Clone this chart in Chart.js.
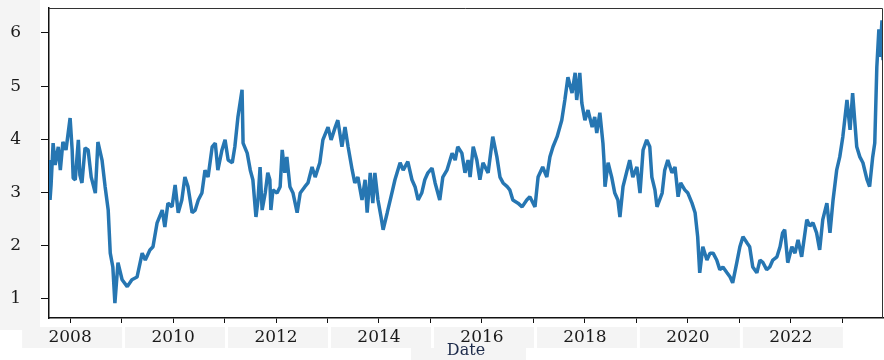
<!DOCTYPE html>
<html lang="en">
  <head>
    <meta charset="UTF-8" />
    <title>Rate over time</title>
    <script src="https://cdn.jsdelivr.net/npm/chart.js"></script>
    <style>
      html, body { margin: 0; padding: 0; background: #fff; }
      #wrap { width: 884px; height: 360px; position: relative; }
    </style>
  </head>
  <body>
    <div id="wrap"><canvas id="rateChart"></canvas></div>

    <script>
      // dates as decimal years
      const dates = [
        2007.59, 2007.61, 2007.63, 2007.67, 2007.71, 2007.77, 2007.81, 2007.86, 2007.92, 2008.00,
        2008.04, 2008.06, 2008.10, 2008.16, 2008.19, 2008.23, 2008.29, 2008.35, 2008.41, 2008.49,
        2008.54, 2008.62, 2008.68, 2008.74, 2008.78, 2008.83, 2008.87, 2008.93, 2009.01, 2009.11,
        2009.20, 2009.30, 2009.40, 2009.46, 2009.55, 2009.61, 2009.69, 2009.79, 2009.84, 2009.90,
        2009.98, 2010.04, 2010.10, 2010.17, 2010.23, 2010.29, 2010.37, 2010.43, 2010.49, 2010.56,
        2010.62, 2010.68, 2010.76, 2010.82, 2010.87, 2010.95, 2011.01, 2011.07, 2011.15, 2011.20,
        2011.26, 2011.34, 2011.36, 2011.44, 2011.50, 2011.55, 2011.61, 2011.65, 2011.69, 2011.73,
        2011.79, 2011.84, 2011.88, 2011.90, 2011.94, 2012.02, 2012.08, 2012.12, 2012.17, 2012.21,
        2012.27, 2012.33, 2012.41, 2012.47, 2012.56, 2012.62, 2012.70, 2012.76, 2012.85, 2012.91,
        2013.01, 2013.07, 2013.15, 2013.20, 2013.28, 2013.34, 2013.40, 2013.48, 2013.53, 2013.59,
        2013.67, 2013.73, 2013.77, 2013.83, 2013.88, 2013.92, 2013.98, 2014.04, 2014.08, 2014.16,
        2014.25, 2014.31, 2014.41, 2014.47, 2014.56, 2014.64, 2014.70, 2014.76, 2014.83, 2014.89,
        2014.95, 2015.03, 2015.09, 2015.18, 2015.24, 2015.32, 2015.42, 2015.48, 2015.53, 2015.61,
        2015.67, 2015.73, 2015.77, 2015.83, 2015.90, 2015.96, 2016.02, 2016.12, 2016.21, 2016.29,
        2016.35, 2016.41, 2016.49, 2016.54, 2016.60, 2016.70, 2016.78, 2016.87, 2016.93, 2017.03,
        2017.09, 2017.18, 2017.26, 2017.32, 2017.38, 2017.46, 2017.55, 2017.61, 2017.67, 2017.75,
        2017.81, 2017.84, 2017.90, 2017.94, 2018.00, 2018.06, 2018.14, 2018.19, 2018.23, 2018.29,
        2018.35, 2018.37, 2018.39, 2018.45, 2018.52, 2018.58, 2018.64, 2018.68, 2018.74, 2018.82,
        2018.87, 2018.93, 2019.01, 2019.07, 2019.13, 2019.20, 2019.26, 2019.30, 2019.36, 2019.40,
        2019.50, 2019.55, 2019.61, 2019.69, 2019.75, 2019.81, 2019.86, 2019.94, 2020.00, 2020.08,
        2020.14, 2020.19, 2020.23, 2020.29, 2020.37, 2020.43, 2020.49, 2020.56, 2020.62, 2020.68,
        2020.76, 2020.82, 2020.87, 2020.95, 2021.01, 2021.07, 2021.15, 2021.20, 2021.26, 2021.34,
        2021.40, 2021.46, 2021.53, 2021.59, 2021.65, 2021.73, 2021.79, 2021.84, 2021.88, 2021.94,
        2022.02, 2022.08, 2022.14, 2022.21, 2022.31, 2022.37, 2022.43, 2022.50, 2022.56, 2022.62,
        2022.70, 2022.76, 2022.82, 2022.89, 2022.95, 2023.01, 2023.09, 2023.15, 2023.20, 2023.28,
        2023.34, 2023.40, 2023.48, 2023.53, 2023.59, 2023.63, 2023.67, 2023.71, 2023.73, 2023.77,
        2023.79,
      ];

      const rates = [
        3.61, 2.86, 3.14, 3.93, 3.52, 3.86, 3.42, 3.95, 3.80, 4.40,
        3.80, 3.27, 3.24, 3.99, 3.33, 3.18, 3.84, 3.80, 3.29, 2.99,
        3.95, 3.61, 3.11, 2.67, 1.86, 1.60, 0.92, 1.68, 1.36, 1.23,
        1.36, 1.41, 1.86, 1.73, 1.92, 1.98, 2.43, 2.67, 2.35, 2.80,
        2.73, 3.14, 2.62, 2.86, 3.29, 3.11, 2.62, 2.67, 2.86, 2.99,
        3.42, 3.29, 3.86, 3.93, 3.42, 3.80, 3.99, 3.61, 3.56, 3.86,
        4.42, 4.93, 3.93, 3.74, 3.42, 3.24, 2.54, 2.86, 3.48, 2.67,
        2.99, 3.37, 3.24, 2.67, 3.05, 2.99, 3.11, 3.80, 3.37, 3.67,
        3.11, 2.99, 2.62, 2.99, 3.11, 3.18, 3.48, 3.29, 3.56, 3.99,
        4.23, 3.99, 4.23, 4.36, 3.86, 4.23, 3.86, 3.42, 3.18, 3.29,
        2.86, 3.24, 2.62, 3.37, 2.80, 3.37, 2.86, 2.54, 2.30, 2.62,
        2.99, 3.24, 3.56, 3.42, 3.58, 3.24, 3.11, 2.86, 2.99, 3.24,
        3.37, 3.46, 3.18, 2.86, 3.29, 3.42, 3.74, 3.61, 3.86, 3.74,
        3.37, 3.61, 3.29, 3.86, 3.61, 3.24, 3.56, 3.37, 4.05, 3.67,
        3.29, 3.18, 3.11, 3.05, 2.86, 2.80, 2.73, 2.86, 2.92, 2.73,
        3.29, 3.48, 3.29, 3.67, 3.86, 4.05, 4.36, 4.74, 5.17, 4.87,
        5.25, 4.74, 5.25, 4.68, 4.36, 4.55, 4.23, 4.42, 4.12, 4.50,
        3.93, 3.61, 3.11, 3.56, 3.29, 2.99, 2.86, 2.54, 3.11, 3.42,
        3.61, 3.29, 3.48, 2.99, 3.80, 3.99, 3.86, 3.29, 3.05, 2.73,
        2.99, 3.42, 3.61, 3.37, 3.48, 2.92, 3.18, 3.05, 2.99, 2.80,
        2.62, 2.17, 1.49, 1.98, 1.73, 1.86, 1.86, 1.73, 1.55, 1.60,
        1.49, 1.41, 1.30, 1.68, 1.98, 2.17, 2.05, 1.98, 1.60, 1.49,
        1.73, 1.68, 1.55, 1.60, 1.73, 1.79, 1.98, 2.24, 2.30, 1.68,
        1.98, 1.86, 2.11, 1.79, 2.49, 2.37, 2.43, 2.24, 1.92, 2.49,
        2.80, 2.24, 2.86, 3.42, 3.67, 4.05, 4.74, 4.18, 4.87, 3.86,
        3.67, 3.56, 3.24, 3.11, 3.67, 3.93, 5.36, 6.07, 5.55, 6.24,
        5.49,
      ];

      const xMin = 2007.59;
      const xMax = 2023.79;
      const yMin = 0.64;
      const yMax = 6.47;
      const xTitle = "Date";

      const labelFont = { family: "DejaVu Serif", size: 17 };

      // light grey label backdrops and the top/right frame
      const framePlugin = {
        id: "frame",
        beforeDraw(chart) {
          const { ctx, chartArea, scales } = chart;
          ctx.save();
          ctx.fillStyle = "#f4f4f4";
          ctx.fillRect(0, 0, chartArea.left - 9, chartArea.bottom + 12);
          scales.x.ticks.forEach((t) => {
            if (t.value % 2 !== 0) return;
            const px = scales.x.getPixelForValue(t.value);
            ctx.fillRect(px - 48, chartArea.bottom + 9, 100, 21);
          });
          const cx = (chartArea.left + chartArea.right) / 2;
          ctx.fillRect(cx - 55, chartArea.bottom + 30, 115, 12);
          ctx.restore();
        },
        afterDraw(chart) {
          const { ctx, chartArea } = chart;
          ctx.save();
          ctx.strokeStyle = "#333";
          ctx.lineWidth = 1;
          ctx.beginPath();
          ctx.moveTo(chartArea.left, chartArea.top + 0.5);
          ctx.lineTo(chartArea.right - 0.5, chartArea.top + 0.5);
          ctx.lineTo(chartArea.right - 0.5, chartArea.bottom);
          ctx.stroke();
          ctx.restore();
        },
      };

      new Chart(document.getElementById("rateChart"), {
        type: "line",
        data: {
          datasets: [
            {
              data: dates.map((d, i) => ({ x: d, y: rates[i] })),
              borderColor: "#2676b2",
              borderWidth: 3.5,
              borderJoinStyle: "bevel",
              pointRadius: 0,
              tension: 0,
            },
          ],
        },
        options: {
          responsive: true,
          maintainAspectRatio: false,
          animation: false,
          layout: { padding: { top: 8, right: 1, left: 0, bottom: 0 } },
          plugins: { legend: { display: false }, tooltip: { enabled: false } },
          scales: {
            x: {
              type: "linear",
              min: xMin,
              max: xMax,
              afterFit: (scale) => {
                scale.height = 42;
                scale.paddingLeft = 0;
                scale.paddingRight = 0;
              },
              border: { display: true, color: "#111", width: 1.5 },
              grid: { drawOnChartArea: false, drawTicks: true, tickLength: 5, color: "#111" },
              ticks: {
                stepSize: 1,
                includeBounds: false,
                autoSkip: false,
                maxRotation: 0,
                padding: 4,
                color: "#1a1a1a",
                font: labelFont,
                callback: (v) => (v % 2 === 0 ? String(v) : ""),
              },
              title: {
                display: true,
                text: xTitle,
                color: "#1c2a4a",
                font: { family: "DejaVu Serif", size: 16 },
                padding: { top: 0, bottom: 0 },
              },
            },
            y: {
              min: yMin,
              max: yMax,
              afterFit: (scale) => {
                scale.width = 49;
                scale.paddingTop = 0;
                scale.paddingBottom = 0;
              },
              border: { display: true, color: "#111", width: 1.5 },
              grid: { drawOnChartArea: false, drawTicks: true, tickLength: 8, color: "#111" },
              ticks: {
                stepSize: 1,
                includeBounds: false,
                padding: 20,
                color: "#1a1a1a",
                font: labelFont,
              },
            },
          },
        },
        plugins: [framePlugin],
      });
    </script>
  </body>
</html>
